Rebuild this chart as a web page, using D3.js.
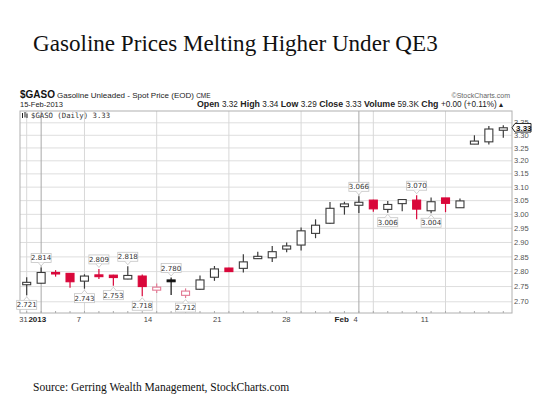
<!DOCTYPE html>
<html>
<head>
<meta charset="utf-8">
<script src="https://cdn.jsdelivr.net/npm/d3@7"></script>
<style>
  html, body { margin: 0; padding: 0; background: #fff; }
  svg { display: block; }
</style>
</head>
<body>
<div id="chart"></div>
<script>
// ---------------- data ----------------
const dates = ["2012-12-31","2013-01-02","2013-01-03","2013-01-04","2013-01-07","2013-01-08","2013-01-09","2013-01-10","2013-01-11",
  "2013-01-14","2013-01-15","2013-01-16","2013-01-17","2013-01-18","2013-01-21","2013-01-22","2013-01-23","2013-01-24","2013-01-25",
  "2013-01-28","2013-01-29","2013-01-30","2013-01-31","2013-02-01","2013-02-04","2013-02-05","2013-02-06","2013-02-07","2013-02-08",
  "2013-02-11","2013-02-12","2013-02-13","2013-02-14","2013-02-15"];
const openP  = [2.756,2.761,2.797,2.794,2.768,2.789,2.788,2.775,2.785,2.738,2.772,2.721,2.741,2.781,2.812,2.811,2.844,2.847,2.877,
  2.891,2.932,2.968,3.028,3.033,3.052,3.018,3.039,3.052,3.013,3.060,3.024,3.265,3.274,3.320];
const highP  = [2.781,2.814,2.805,2.795,2.791,2.809,2.789,2.818,2.790,2.760,2.780,2.744,2.787,2.819,2.813,2.859,2.868,2.888,2.900,
  2.953,2.982,3.045,3.046,3.066,3.053,3.049,3.055,3.070,3.062,3.060,3.058,3.300,3.337,3.340];
const lowP   = [2.721,2.760,2.783,2.746,2.743,2.775,2.753,2.774,2.718,2.729,2.722,2.712,2.739,2.769,2.799,2.797,2.843,2.833,2.866,
  2.872,2.915,2.966,2.999,3.005,3.009,3.006,3.011,2.982,3.004,3.008,3.024,3.265,3.264,3.290];
const closeP = [2.764,2.797,2.792,2.766,2.785,2.783,2.780,2.787,2.750,2.748,2.766,2.735,2.772,2.809,2.800,2.833,2.852,2.868,2.888,
  2.941,2.961,3.022,3.038,3.044,3.020,3.036,3.054,3.019,3.046,3.040,3.049,3.277,3.325,3.330];

// annotated highs / lows (by date)
const highLabels = ["2013-01-02","2013-01-08","2013-01-10","2013-01-15","2013-02-01","2013-02-07"];
const lowLabels  = ["2012-12-31","2013-01-07","2013-01-09","2013-01-11","2013-01-16","2013-02-05","2013-02-08"];

// x axis labels
const weekTicks   = ["2012-12-31","2013-01-07","2013-01-14","2013-01-21","2013-01-28","2013-02-04","2013-02-11"];
const weekLabels  = ["31","7","14","21","28","4","11"];
const periodTicks = ["2013-01-02","2013-02-01"];
const periodLabels= ["2013","Feb"];
const yTicks = [2.70,2.75,2.80,2.85,2.90,2.95,3.00,3.05,3.10,3.15,3.20,3.25,3.30,3.35];

// header statistics line (last bar)
const statNames  = ["Open","High","Low","Close","Volume","Chg"];
const statValues = ["3.32","3.34","3.29","3.33","59.3K","+0.00 (+0.11%) \u25B4"];

const title = "Gasoline Prices Melting Higher Under QE3";
const source = "Source: Gerring Wealth Management, StockCharts.com";

// ---------------- layout ----------------
const W = 550, H = 413;
const P = {left: 20, right: 512, top: 111, bottom: 313};
const RED = "#d9073a", PINK = "#e27a94", DARK = "#3a3a3a";
const SANS = "'Liberation Sans', Arial, sans-serif";
const SERIF = "'Liberation Serif', 'Times New Roman', serif";

const svg = d3.select("#chart").append("svg").attr("width", W).attr("height", H);

const n = dates.length;
const x = d3.scaleLinear().domain([0, n - 1]).range([26.7, 503.3]);
const xl = d3.scaleLinear().domain([0, n - 1]).range([23.5, 480]); // label positions
const y = d3.scaleLog().domain([2.6637, 3.398]).range([P.bottom, P.top]);
const di = d => dates.indexOf(d);

// title
svg.append("text").attr("x", 33).attr("y", 51).attr("font-family", SERIF).attr("font-size", 23.1)
  .attr("fill", "#111").text(title);

// header
svg.append("text").attr("x", 20).attr("y", 98).attr("font-family", SANS).attr("font-weight", "bold")
  .attr("font-size", 10).attr("fill", "#111").text("$GASO");
const h1 = svg.append("text").attr("x", 57).attr("y", 98).attr("font-family", SANS).attr("font-size", 8).attr("fill", "#222");
h1.append("tspan").text("Gasoline Unleaded - Spot Price (EOD) ");
h1.append("tspan").attr("font-size", 6.5).text("CME");
svg.append("text").attr("x", 510).attr("y", 97.5).attr("text-anchor", "end").attr("font-family", SANS)
  .attr("font-size", 7).attr("fill", "#666").text("\u00A9StockCharts.com");
svg.append("text").attr("x", 20).attr("y", 106.5).attr("font-family", SANS).attr("font-size", 7.5)
  .attr("fill", "#222").text("15-Feb-2013");
const i0 = n - 1;
const stat = svg.append("text").attr("x", 503).attr("y", 106.5).attr("text-anchor", "end")
  .attr("font-family", SANS).attr("font-size", 8.2).attr("fill", "#222");
statNames.forEach((nm, k) => {
  stat.append("tspan").attr("font-weight", "bold").attr("font-size", 8.8).text((k ? " " : "") + nm + " ");
  stat.append("tspan").text(statValues[k]);
});

// plot frame and grid
const g = svg.append("g");
g.selectAll("line.hg").data(yTicks).join("line").attr("class", "hg")
  .attr("x1", P.left).attr("x2", P.right).attr("y1", d => y(d)).attr("y2", d => y(d))
  .attr("stroke", "#dedede").attr("stroke-width", 1);
g.selectAll("line.vg").data(weekTicks).join("line").attr("class", "vg")
  .attr("x1", d => x(di(d))).attr("x2", d => x(di(d))).attr("y1", P.top).attr("y2", P.bottom)
  .attr("stroke", "#d8d8d8").attr("stroke-width", 1);
g.selectAll("line.pg").data(periodTicks).join("line").attr("class", "pg")
  .attr("x1", d => x(di(d))).attr("x2", d => x(di(d))).attr("y1", P.top).attr("y2", P.bottom)
  .attr("stroke", "#a8a8a8").attr("stroke-width", 1);
g.append("rect").attr("x", P.left).attr("y", P.top).attr("width", P.right - P.left).attr("height", P.bottom - P.top)
  .attr("fill", "none").attr("stroke", "#b0b0b0").attr("stroke-width", 1);
// day ticks on bottom axis
g.selectAll("line.dt").data(dates).join("line").attr("class", "dt")
  .attr("x1", (d, i) => x(i)).attr("x2", (d, i) => x(i)).attr("y1", P.bottom - 2).attr("y2", P.bottom)
  .attr("stroke", "#aaa");

// legend row inside plot
const ic = svg.append("g").attr("stroke", "#222").attr("stroke-width", 1);
[[22.5, 113, 118], [25, 112, 117.5], [27, 113.5, 118]].forEach(a =>
  ic.append("line").attr("x1", a[0]).attr("x2", a[0]).attr("y1", a[1]).attr("y2", a[2]));
svg.append("text").attr("x", 31).attr("y", 118).attr("font-family", "'DejaVu Sans Mono', monospace")
  .attr("font-size", 7.3).attr("fill", "#333").text("$GASO (Daily) " + closeP[i0].toFixed(2));

// candles
const bw = 8;
const candles = svg.append("g").selectAll("g").data(dates).join("g");
candles.each(function(d, i) {
  const o = openP[i], c = closeP[i], h = highP[i], l = lowP[i];
  const up = c >= o;
  const gain = i === 0 || c >= closeP[i - 1];
  let col;
  if (gain) col = up ? DARK : "#111"; else col = up ? PINK : RED;
  const sel = d3.select(this);
  sel.append("line").attr("x1", x(i)).attr("x2", x(i)).attr("y1", y(h)).attr("y2", y(l))
    .attr("stroke", col).attr("stroke-width", 1.2);
  const top = y(Math.max(o, c)), bot = y(Math.min(o, c));
  sel.append("rect").attr("x", x(i) - bw / 2).attr("y", top).attr("width", bw)
    .attr("height", Math.max(bot - top, 1.2))
    .attr("fill", up ? "#fff" : col).attr("stroke", col).attr("stroke-width", 1.1);
});

// annotations
function annot(i, v, above) {
  const cx = x(i), bwid = 20, bh = 9;
  const yy = y(v);
  const gg = svg.append("g");
  let by, tri;
  if (above) {
    by = yy - 5 - bh;
    tri = `M${cx - 3},${by + bh} L${cx},${by + bh + 3.5} L${cx + 3},${by + bh}`;
  } else {
    by = yy + 5;
    tri = `M${cx - 3},${by} L${cx},${by - 3.5} L${cx + 3},${by}`;
  }
  gg.append("rect").attr("x", cx - bwid / 2).attr("y", by).attr("width", bwid).attr("height", bh)
    .attr("fill", "#fff").attr("stroke", "#c4c4c4").attr("stroke-width", 0.8);
  gg.append("path").attr("d", tri).attr("fill", "#fff").attr("stroke", "#c4c4c4").attr("stroke-width", 0.8);
  gg.append("text").attr("x", cx).attr("y", by + 7).attr("text-anchor", "middle")
    .attr("font-family", "'DejaVu Sans', sans-serif").attr("font-size", 7).attr("fill", "#333")
    .text(v.toFixed(3));
}
highLabels.forEach(d => annot(di(d), highP[di(d)], true));
lowLabels.forEach(d => annot(di(d), lowP[di(d)], false));

// y labels
svg.append("g").selectAll("text").data(yTicks).join("text")
  .attr("x", 514).attr("y", d => y(d) + 2.6).attr("font-family", SANS).attr("font-size", 7.5)
  .attr("fill", "#555").text(d => d.toFixed(2));

// last price marker
const ly = y(closeP[i0]);
svg.append("path")
  .attr("d", `M512,${ly} L515,${ly - 4.3} L531,${ly - 4.3} L531,${ly + 4.3} L515,${ly + 4.3} Z`)
  .attr("fill", "#fff").attr("stroke", "#111").attr("stroke-width", 0.9);
svg.append("text").attr("x", 516).attr("y", ly + 2.8).attr("font-family", SANS).attr("font-size", 8)
  .attr("font-weight", "bold").attr("fill", "#111").text(closeP[i0].toFixed(2));

// x labels
svg.append("g").selectAll("text").data(weekTicks).join("text")
  .attr("x", d => xl(di(d))).attr("y", 322).attr("text-anchor", "middle")
  .attr("font-family", SANS).attr("font-size", 7.5).attr("fill", "#444")
  .text((d, k) => weekLabels[k]);
svg.append("g").selectAll("text").data(periodTicks).join("text")
  .attr("x", d => xl(di(d))).attr("y", 322).attr("text-anchor", "middle")
  .attr("font-family", SANS).attr("font-size", 8).attr("font-weight", "bold").attr("fill", "#222")
  .text((d, k) => periodLabels[k]);

// source
svg.append("text").attr("x", 33).attr("y", 391).attr("font-family", SERIF).attr("font-size", 11.5)
  .attr("fill", "#111").text(source);
</script>
</body>
</html>
